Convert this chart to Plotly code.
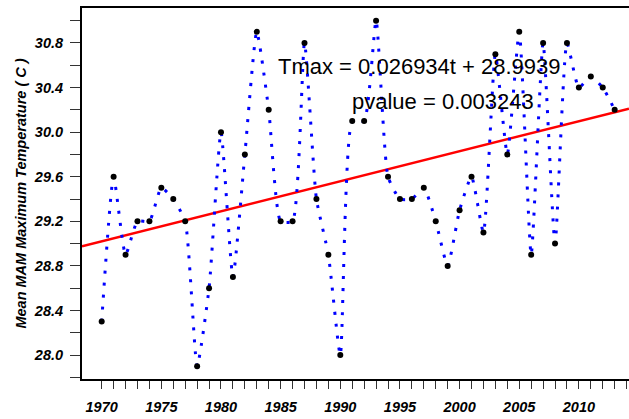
import plotly.graph_objects as go

years = list(range(1970, 2014))
tmax = [28.3, 29.6, 28.9, 29.2, 29.2, 29.5, 29.4, 29.2, 27.9, 28.6,
        30.0, 28.7, 29.8, 30.9, 30.2, 29.2, 29.2, 30.8, 29.4, 28.9,
        28.0, 30.1, 30.1, 31.0, 29.6, 29.4, 29.4, 29.5, 29.2, 28.8,
        29.3, 29.6, 29.1, 30.7, 29.8, 30.9, 28.9, 30.8, 29.0, 30.8,
        30.4, 30.5, 30.4, 30.2]
slope = 0.026934
intercept = 28.9939
trend_years = [1968.35, 2014.2]
trend_vals = [intercept + slope * (y - 1969) for y in trend_years]

x_tickvals = list(range(1970, 2015))
x_ticktext = [str(y) if y % 5 == 0 else "" for y in x_tickvals]
y_tickvals = [round(27.8 + 0.2 * i, 1) for i in range(17)]
y_ticktext = [f"{v:.1f}" if round(v * 10) % 4 == 0 else "" for v in y_tickvals]

eq_text = "Tmax = 0.026934t + 28.9939"
p_text = "pvalue = 0.003243"

fig = go.Figure()
fig.add_trace(go.Scatter(x=trend_years, y=trend_vals, mode="lines",
                         line=dict(color="#ff0000", width=2.5), hoverinfo="skip"))
fig.add_trace(go.Scatter(x=years, y=tmax, mode="lines",
                         line=dict(color="#0000ff", width=3, dash="3px,9px",
                                   shape="spline", smoothing=0.5)))
fig.add_trace(go.Scatter(x=years, y=tmax, mode="markers",
                         marker=dict(color="black", size=6)))

fig.add_annotation(x=1996.64, y=30.593, text=eq_text, showarrow=False,
                   font=dict(family="Liberation Sans, Arial", size=22, color="black"))
fig.add_annotation(x=1998.61, y=30.279, text=p_text, showarrow=False,
                   font=dict(family="Liberation Sans, Arial", size=22, color="black"))

tickfont = dict(family="Liberation Sans, Arial", size=14.5, color="black",
                weight="bold", style="italic")
fig.update_layout(
    width=629, height=419,
    margin=dict(l=82, r=0, t=8, b=40),
    paper_bgcolor="white", plot_bgcolor="white",
    showlegend=False,
    xaxis=dict(range=[1968.35, 2014.2], tickvals=x_tickvals, ticktext=x_ticktext,
               ticks="outside", ticklen=8, tickwidth=1.3, tickcolor="#333",
               showline=True, linecolor="black", linewidth=2, mirror=True,
               showgrid=False, zeroline=False, tickfont=tickfont,
               ticklabelstandoff=6, automargin=False),
    yaxis=dict(range=[27.785, 31.114], tickvals=y_tickvals, ticktext=y_ticktext,
               ticks="outside", ticklen=10, tickwidth=1.3, tickcolor="#333",
               showline=True, linecolor="black", linewidth=2,
               showgrid=False, zeroline=False, tickfont=tickfont,
               ticklabelstandoff=4, automargin=False,
               title=dict(text="Mean MAM Maximum Temperature ( C )", standoff=4,
                          font=dict(family="Liberation Sans, Arial", size=14.5, color="black",
                                    weight="bold", style="italic"))),
)
fig.write_html("out.html", config={"displayModeBar": False},
               post_script="document.body.style.margin='0';")
